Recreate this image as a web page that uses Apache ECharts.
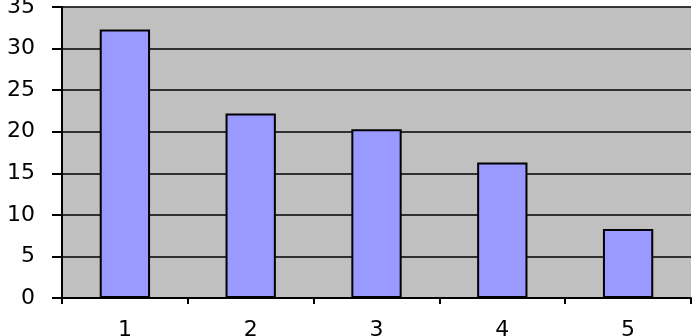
<!DOCTYPE html>
<html><head><meta charset="utf-8">
<script src="https://cdn.jsdelivr.net/npm/echarts@6/dist/echarts.min.js"></script>
<style>html,body{margin:0;padding:0;background:#fff}#c{width:692px;height:336px}</style>
</head><body><div id="c"></div>
<script>
var categories = ['1','2','3','4','5'];
var values = [32.3, 22.2, 20.3, 16.3, 8.3];
var yTicks = [0,5,10,15,20,25,30,35];

var chart = echarts.init(document.getElementById('c'), null, {renderer:'canvas'});
chart.setOption({
  animation:false,
  grid:{left:62, right:1, top:7, bottom:38, show:true, backgroundColor:'#C0C0C0', borderWidth:0,
        containLabel:false, outerBoundsMode:'none'},
  xAxis:{type:'category', data:categories,
    axisLine:{lineStyle:{color:'#000', width:2}},
    axisTick:{show:true, length:6, lineStyle:{color:'#000', width:2}},
    axisLabel:{color:'#000', fontSize:22, fontFamily:'DejaVu Sans', margin:21}
  },
  yAxis:{type:'value', min:yTicks[0], max:yTicks[yTicks.length-1], interval:5,
    axisLine:{show:true, lineStyle:{color:'#000', width:2}},
    axisTick:{show:true, length:10, lineStyle:{color:'#000', width:2}},
    axisLabel:{color:'#000', fontSize:22, fontFamily:'DejaVu Sans', margin:27},
    splitLine:{show:true, lineStyle:{color:'#000', width:1.5}}
  },
  series:[{type:'bar', data:values, barWidth:'40%',
    itemStyle:{color:'#9999FF', borderColor:'#000', borderWidth:2}}]
});
</script></body></html>
